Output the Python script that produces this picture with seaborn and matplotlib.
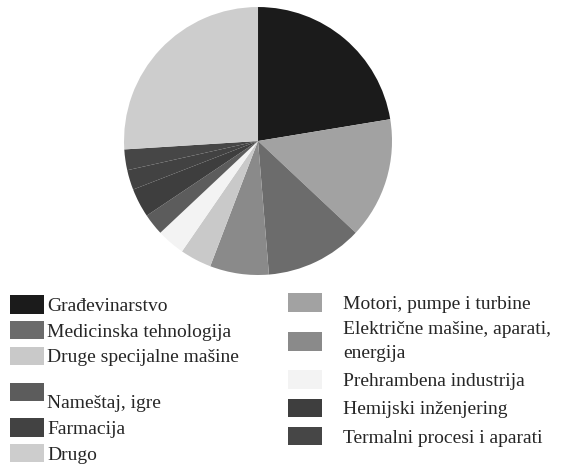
import matplotlib
matplotlib.use("Agg")
import matplotlib.pyplot as plt
import seaborn as sns

# shares (percent), clockwise from 12 o'clock
sectors = ["Građevinarstvo", "Motori, pumpe i turbine", "Medicinska tehnologija",
           "Električne mašine, aparati, energija", "Druge specijalne mašine",
           "Prehrambena industrija", "Nameštaj, igre", "Hemijski inženjering",
           "Farmacija", "Termalni procesi i aparati", "Drugo"]
shares = [22.4, 14.6, 11.7, 7.1, 3.8, 3.4, 2.6, 3.5, 2.4, 2.5, 26.0]

colors = ["#1b1b1b", "#a2a2a2", "#6c6c6c", "#8a8a8a", "#c9c9c9", "#f3f3f3",
          "#5c5c5c", "#3e3e3e", "#424242", "#464646", "#cdcdcd"]

sns.set_theme(style="white")
plt.rcParams["font.family"] = ["Liberation Serif", "DejaVu Serif"]

fig = plt.figure(figsize=(5.88, 4.65), dpi=100)
ax = fig.add_axes([0.2109, 0.4086, 0.4558, 0.5763])
wedges, _ = ax.pie(shares, colors=colors, startangle=90, counterclock=False,
                   radius=1, wedgeprops=dict(linewidth=0))
ax.set_xlim(-1, 1)
ax.set_ylim(-1, 1)
ax.set_aspect("equal")
ax.axis("off")

w = dict(zip(sectors, wedges))

left_keys = ["Građevinarstvo", "Medicinska tehnologija", "Druge specijalne mašine",
             "Nameštaj, igre", "Farmacija", "Drugo"]
left_labels = ["Građevinarstvo", "Medicinska tehnologija", "Druge specijalne mašine",
               "\nNameštaj, igre", "Farmacija", "Drugo"]
right_keys = ["Motori, pumpe i turbine", "Električne mašine, aparati, energija",
              "Prehrambena industrija", "Hemijski inženjering",
              "Termalni procesi i aparati"]
right_labels = ["Motori, pumpe i turbine", "Električne mašine, aparati,\nenergija",
                "Prehrambena industrija", "Hemijski inženjering",
                "Termalni procesi i aparati"]

common = dict(loc="upper left", frameon=False, fontsize=14, borderpad=0,
              borderaxespad=0, handleheight=1.1, handlelength=1.75)
leg1 = fig.legend([w[k] for k in left_keys], left_labels,
                  bbox_to_anchor=(10 / 588, 1 - 295 / 465),
                  handletextpad=0.15, labelspacing=0.3, **common)
leg2 = fig.legend([w[k] for k in right_keys], right_labels,
                  bbox_to_anchor=(288 / 588, 1 - 293 / 465),
                  handletextpad=1.1, labelspacing=0.42, **common)
for t in leg1.get_texts():
    t.set_linespacing(1.45)
for t in leg2.get_texts():
    t.set_linespacing(1.55)

fig.savefig("out.png", dpi=100)
